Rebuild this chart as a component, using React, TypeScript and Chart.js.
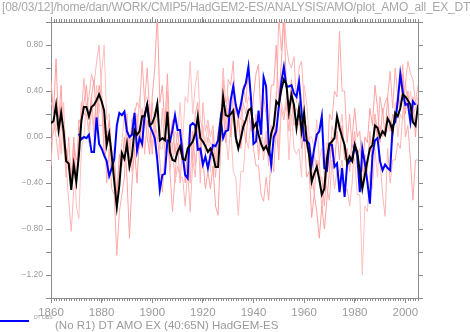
import React, { useEffect, useRef } from 'react';
import { Chart, registerables } from 'chart.js';

Chart.register(...registerables);

const START_YEAR = 1860;
const END_YEAR = 2005;
const OBS_START = 1871;
const X_LABEL_STEP = 20;
const Y_MIN = -1.4;
const Y_MAX = 1.0;

const TITLE = '[08/03/12]/home/dan/WORK/CMIP5/HadGEM2-ES/ANALYSIS/AMO/plot_AMO_all_EX_DT';
const LEGEND_TAG = 'DT OBS';
const LEGEND_TEXT = '(No R1) DT AMO EX (40:65N) HadGEM-ES';

// ensemble mean (black), 1860-2005
const ensembleMean = [
  0.12, 0.14, 0.28, 0.06, 0.21, 0.05, -0.21, -0.23, -0.46, -0.24,
  -0.39, -0.16, 0.14, 0.26, 0.26, 0.18, 0.26, 0.28, 0.32, 0.37,
  0.31, 0.23, -0.07, 0.03, -0.16, -0.39, -0.61, -0.42, -0.14, -0.19,
  -0.06, -0.26, -0.16, 0.06, 0.02, 0.05, 0.18, 0.18, 0.28, 0.10,
  0.12, 0.18, 0.29, -0.03, -0.01, -0.03, 0.22, -0.13, -0.20, -0.21,
  -0.13, -0.08, -0.19, -0.20, -0.10, -0.07, -0.04, 0.03, 0.18, -0.01,
  -0.04, -0.08, -0.13, -0.10, -0.16, -0.26, -0.26, 0.08, 0.35, 0.19,
  0.18, 0.20, 0.23, 0.00, -0.10, -0.01, 0.09, 0.15, 0.23, 0.25,
  0.08, 0.12, 0.02, -0.06, -0.11, -0.08, -0.14, 0.03, 0.10, 0.31,
  0.28, 0.41, 0.50, 0.46, 0.22, 0.37, 0.28, 0.08, 0.25, 0.05,
  0.21, -0.03, -0.16, -0.39, -0.32, -0.26, -0.37, -0.50, -0.45, -0.19,
  -0.06, -0.04, -0.01, 0.18, 0.08, 0.00, -0.07, -0.23, -0.17, -0.21,
  -0.07, -0.13, -0.30, -0.45, -0.33, -0.21, -0.10, -0.07, 0.10, 0.08,
  0.00, 0.05, 0.02, 0.16, 0.12, 0.05, 0.21, 0.18, 0.25, 0.37,
  0.35, 0.32, 0.28, 0.13, 0.10, 0.28,
];

// observations (blue), 1871-2004
const observed = [
  0.03, -0.02, 0.00, -0.01, 0.02, -0.13, -0.13, 0.17, -0.06,
  -0.10, -0.16, -0.21, -0.34, -0.27, -0.19, 0.10, 0.21, 0.19, 0.22,
  0.05, 0.00, 0.02, 0.21, -0.12, -0.01, -0.06, 0.19, 0.28, 0.10,
  0.05, -0.01, -0.20, -0.46, -0.33, -0.32, -0.03, -0.04, 0.06, 0.19,
  0.06, 0.06, -0.16, -0.33, -0.36, 0.10, 0.12, 0.10, -0.11, -0.10,
  -0.24, -0.17, -0.27, -0.16, -0.07, -0.08, -0.03, 0.16, -0.01, 0.05,
  0.06, 0.32, 0.44, 0.28, 0.19, 0.28, 0.41, 0.47, 0.61, 0.34,
  -0.06, -0.04, 0.23, 0.02, 0.52, 0.44, -0.06, -0.24, 0.00, 0.05,
  0.26, 0.48, 0.61, 0.44, 0.44, 0.45, 0.38, 0.35, 0.48, 0.22,
  -0.03, -0.03, -0.06, -0.24, -0.10, 0.02, 0.05, 0.18, -0.27, -0.29,
  -0.06, -0.07, -0.26, -0.23, -0.48, -0.27, -0.52, -0.24, -0.21, -0.19,
  -0.07, -0.16, -0.48, -0.10, -0.23, -0.39, -0.58, -0.16, -0.03, -0.01,
  -0.21, -0.29, -0.24, -0.27, -0.29, 0.10, 0.13, 0.31, 0.55, 0.39,
  0.28, 0.29, 0.13, 0.31, 0.28,
];

// individual ensemble members (pink), 1860-2005
const member1 = [
  0.50, 0.20, 0.68, 0.10, 0.45, -0.05, -0.10, -0.25, -0.40, 0.00,
  -0.45, 0.15, 0.10, 0.30, 0.45, 0.15, 0.35, 0.50, 0.10, 0.45,
  0.30, -0.15, -0.05, 0.15, -0.20, -0.25, -0.50, -0.15, -0.25, 0.00,
  -0.35, -0.88, -0.40, -0.10, -0.40, 0.05, -0.10, 0.20, 0.00, -0.15,
  0.35, 0.60, 1.08, 0.30, 0.45, 0.10, 0.55, -0.05, 0.15, -0.15,
  0.05, -0.15, -0.05, -0.40, -0.10, 0.10, -0.20, 0.20, 0.30, -0.05,
  -0.20, -0.45, -0.30, -0.45, -0.25, -0.60, -0.68, -0.10, 0.25, -0.05,
  0.25, 0.00, 0.25, -0.05, 0.20, -0.10, 0.15, -0.05, 0.25, 0.05,
  0.35, 0.55, 0.63, 0.15, 0.35, 0.20, 0.05, 0.45, 0.45, 0.80,
  0.30, 0.65, 1.02, 0.45, 0.15, 0.50, 0.20, 0.25, 0.20, -0.10,
  0.05, -0.35, -0.30, -0.70, -0.50, -0.65, -0.88, -0.60, -0.80, -0.55,
  -0.30, 0.00, -0.25, 0.05, -0.20, 0.10, -0.20, -0.10, -0.30, 0.00,
  0.25, 0.00, 0.05, -0.30, 0.00, -0.05, 0.25, 0.10, 0.45, 0.25,
  -0.05, 0.25, 0.00, 0.35, 0.05, 0.20, 0.15, 0.40, 0.25, 0.55,
  0.20, 0.40, 0.10, 0.35, 0.00, 0.30,
];
const member2 = [
  -0.25, 0.15, 0.00, -0.20, 0.30, -0.10, -0.25, -0.55, -0.82, -0.45,
  -0.40, 0.00, 0.20, 0.51, 0.25, 0.35, 0.55, 0.45, 0.65, 0.80,
  0.40, 0.00, 0.05, 0.05, -0.30, -0.35, -0.65, -0.25, -0.20, -0.20,
  0.00, -0.10, 0.15, -0.10, 0.20, -0.10, 0.25, -0.15, 0.15, -0.05,
  0.30, 0.00, 0.30, -0.10, 0.25, -0.15, 0.40, -0.30, -0.05, -0.40,
  -0.25, -0.35, -0.35, -0.60, -0.30, -0.65, -0.20, -0.35, 0.10, -0.40,
  0.30, 0.05, 0.15, 0.00, 0.10, -0.20, 0.05, 0.15, 0.60, 0.30,
  0.35, 0.05, 0.40, 0.00, 0.15, 0.00, 0.30, 0.20, 0.35, 0.30,
  -0.05, 0.20, -0.20, 0.00, -0.20, 0.00, -0.25, 0.10, -0.05, 0.25,
  1.05, 0.75, 1.10, 0.80, 0.65, 0.60, 0.70, 0.30, 0.60, 0.66,
  0.30, -0.10, 0.00, -0.45, -0.15, -0.30, -0.20, -0.65, -0.35, -0.45,
  -0.55, -0.20, -0.45, -0.30, -0.30, -0.20, -0.50, -0.45, -0.60, -0.40,
  0.00, -0.15, -0.10, -0.25, -0.15, -0.25, 0.00, -0.10, 0.20, 0.05,
  -0.20, -0.50, -0.69, -0.10, -0.40, -0.20, -0.20, -0.05, -0.10, 0.20,
  0.45, 0.66, 0.55, 0.50, 0.30, 0.45,
];
const member3 = [
  0.30, 0.25, 0.05, 0.15, -0.15, 0.30, -0.20, -0.20, -0.45, -0.10,
  -0.60, -0.71, -0.10, 0.00, 0.30, -0.05, 0.25, 0.00, 0.45, 0.20,
  0.55, 0.80, 0.15, 0.20, -0.15, -0.10, -0.55, -0.20, -0.05, 0.20,
  -0.05, 0.00, -0.30, 0.25, 0.00, 0.35, 0.00, 0.30, 0.35, 0.30,
  -0.10, 0.15, -0.20, -0.10, -0.10, 0.10, -0.10, 0.05, -0.10, 0.05,
  0.00, 0.30, -0.05, 0.35, 0.30, 0.66, 0.20, 0.45, 0.58, 0.15,
  0.05, -0.05, 0.10, -0.30, 0.05, -0.25, -0.05, 0.05, 0.40, 0.05,
  -0.20, 0.10, -0.30, -0.35, -0.68, -0.30, -0.30, 0.00, -0.10, 0.15,
  0.05, 0.15, -0.15, 0.15, -0.10, 0.05, -0.20, 0.10, 0.00, 0.40,
  -0.10, 0.30, 0.20, 0.35, -0.20, 0.20, -0.10, -0.15, -0.10, -0.35,
  0.45, 0.30, 0.00, 0.00, -0.10, 0.15, -0.20, -0.10, -0.35, -0.05,
  -0.30, 0.10, 0.00, 0.10, 0.05, 0.20, -0.15, -0.10, -0.25, -0.15,
  -0.20, -0.50, -0.50, -1.20, -0.60, -0.65, -0.30, -0.45, -0.10, -0.35,
  0.10, 0.00, 0.05, 0.05, 0.15, -0.05, 0.30, 0.00, 0.20, 0.15,
  0.50, 0.25, 0.40, 0.20, 0.25, 0.35,
];
const member4 = [
  -0.05, 0.05, 0.10, 0.20, 0.10, 0.00, -0.35, 0.00, -0.40, -0.05,
  -0.20, -0.15, 0.30, 0.20, 0.20, 0.05, 0.35, 0.05, 0.35, 0.10,
  0.10, 0.15, -0.40, -0.10, -0.45, -0.50, -1.03, -0.65, -0.50, -0.35,
  0.20, -0.25, 0.15, 0.20, 0.30, 0.25, 0.66, 0.30, 0.60, 0.20,
  -0.15, 0.15, 0.00, -0.20, -0.48, -0.15, 0.00, -0.30, -0.65, -0.35,
  -0.05, -0.40, -0.05, -0.35, -0.10, -0.40, 0.05, -0.25, 0.00, -0.15,
  0.10, -0.15, 0.00, -0.05, -0.10, -0.35, -0.05, 0.00, 0.50, 0.10,
  0.50, 0.45, 0.66, 0.20, 0.20, 0.15, 0.45, 0.30, 0.60, 0.35,
  -0.10, -0.25, -0.25, -0.50, -0.56, -0.35, -0.55, -0.15, -0.30, 0.10,
  -0.20, 0.25, 0.15, 0.30, 0.05, 0.35, 0.10, 0.15, 0.10, 0.10,
  0.05, 0.10, -0.25, -0.30, -0.50, -0.20, -0.35, -0.35, -0.60, -0.30,
  0.20, 0.15, 0.40, 0.35, 0.92, 0.40, 0.40, -0.05, 0.20, -0.10,
  0.05, -0.25, -0.25, -0.40, -0.20, -0.30, 0.05, -0.20, 0.20, -0.05,
  0.35, 0.20, 0.30, 0.35, 0.57, 0.25, 0.60, 0.35, 0.45, 0.63,
  0.00, 0.10, -0.20, -0.55, -0.20, -0.20,
];

const AXIS = '#8c8c8c';
const TEXT = '#9a9a9a';
const FONT = "'Liberation Sans', Arial, Helvetica, sans-serif";

function toPoints(start: number, vals: number[]) {
  return vals.map((v, i) => ({ x: start + i, y: v }));
}

const minorTicks = {
  id: 'minorTicks',
  afterDraw(chart: any) {
    const { ctx, chartArea } = chart;
    const x = chart.scales.x;
    ctx.save();
    ctx.strokeStyle = AXIS;
    ctx.lineWidth = 1;
    ctx.beginPath();
    for (let yr = START_YEAR; yr <= END_YEAR; yr++) {
      const px = Math.round(x.getPixelForValue(yr)) + 0.5;
      ctx.moveTo(px, chartArea.bottom);
      ctx.lineTo(px, chartArea.bottom + 3);
      ctx.moveTo(px, chartArea.top);
      ctx.lineTo(px, chartArea.top - 3);
    }
    ctx.stroke();
    ctx.restore();
  },
};

function fmtY(v: number) {
  const t = Math.round(v * 10);
  if (t % 4 !== 0) return '';
  const s = Math.abs(v).toFixed(2);
  return v < -1e-9 ? '\u2212' + s : s;
}

export default function App() {
  const ref = useRef<HTMLCanvasElement | null>(null);

  useEffect(() => {
    if (!ref.current) return;
    const gridOpts = { display: true, drawOnChartArea: false, drawTicks: true, tickLength: 5, color: AXIS, lineWidth: 1 };
    const border = { display: true, color: AXIS, width: 1 };
    const chart = new Chart(ref.current, {
      type: 'line',
      data: {
        datasets: [
          { label: 'mean', data: toPoints(START_YEAR, ensembleMean), borderColor: '#000000', borderWidth: 2, pointRadius: 0, tension: 0 },
          { label: LEGEND_TAG, data: toPoints(OBS_START, observed), borderColor: '#0000ff', borderWidth: 2, pointRadius: 0, tension: 0 },
          { label: 'm1', data: toPoints(START_YEAR, member1), borderColor: '#ffa0a0', borderWidth: 1, pointRadius: 0, tension: 0 },
          { label: 'm2', data: toPoints(START_YEAR, member2), borderColor: '#ffb4b4', borderWidth: 1, pointRadius: 0, tension: 0 },
          { label: 'm3', data: toPoints(START_YEAR, member3), borderColor: '#ffc0c0', borderWidth: 1, pointRadius: 0, tension: 0 },
          { label: 'm4', data: toPoints(START_YEAR, member4), borderColor: '#ffaaaa', borderWidth: 1, pointRadius: 0, tension: 0 },
        ],
      },
      options: {
        animation: false,
        responsive: false,
        devicePixelRatio: 1,
        layout: { padding: 0 },
        plugins: { legend: { display: false }, tooltip: { enabled: false }, title: { display: false } },
        scales: {
          x: {
            type: 'linear', position: 'bottom', min: START_YEAR, max: END_YEAR,
            ticks: {
              stepSize: X_LABEL_STEP, includeBounds: false, autoSkip: false, maxRotation: 0,
              color: TEXT, font: { family: FONT, size: 11.5 }, padding: 3,
              callback: (v: any) => String(v),
            },
            grid: gridOpts, border,
            afterFit: (s: any) => { s.height = 34; },
          },
          x2: {
            type: 'linear', position: 'top', min: START_YEAR, max: END_YEAR,
            ticks: { stepSize: X_LABEL_STEP, includeBounds: false, display: false },
            grid: gridOpts, border,
            afterFit: (s: any) => { s.height = 22; },
          },
          y: {
            type: 'linear', position: 'left', min: Y_MIN, max: Y_MAX,
            ticks: { stepSize: 0.2, autoSkip: false, color: TEXT, font: { family: FONT, size: 8.5 }, padding: 3, callback: (v: any) => fmtY(Number(v)) },
            grid: gridOpts, border,
            afterFit: (s: any) => { s.width = 51; },
          },
          y2: {
            type: 'linear', position: 'right', min: Y_MIN, max: Y_MAX,
            ticks: { stepSize: 0.2, display: false },
            grid: gridOpts, border,
            afterFit: (s: any) => { s.width = 52; },
          },
        },
      },
      plugins: [minorTicks],
    } as any);
    return () => chart.destroy();
  }, []);

  return (
    <div style={{ position: 'absolute', left: 0, top: 0, width: 470, height: 332, background: '#fff', overflow: 'hidden', fontFamily: FONT }}>
      <canvas ref={ref} width={470} height={332} style={{ position: 'absolute', left: 0, top: 0, width: 470, height: 332 }} />
      <div style={{ position: 'absolute', left: 2, top: 0, fontSize: 12, letterSpacing: '-0.2px', lineHeight: '15px', color: '#a8a8a8', whiteSpace: 'nowrap' }}>{TITLE}</div>
      <div style={{ position: 'absolute', left: 0, top: 320, width: 29, height: 1.5, background: '#0000ff' }} />
      <div style={{ position: 'absolute', left: 34, top: 314, fontSize: 5, lineHeight: '6px', color: TEXT, whiteSpace: 'nowrap' }}>{LEGEND_TAG}</div>
      <div style={{ position: 'absolute', left: 55, top: 318, fontSize: 11.5, lineHeight: '14px', color: TEXT, whiteSpace: 'nowrap' }}>{LEGEND_TEXT}</div>
    </div>
  );
}
